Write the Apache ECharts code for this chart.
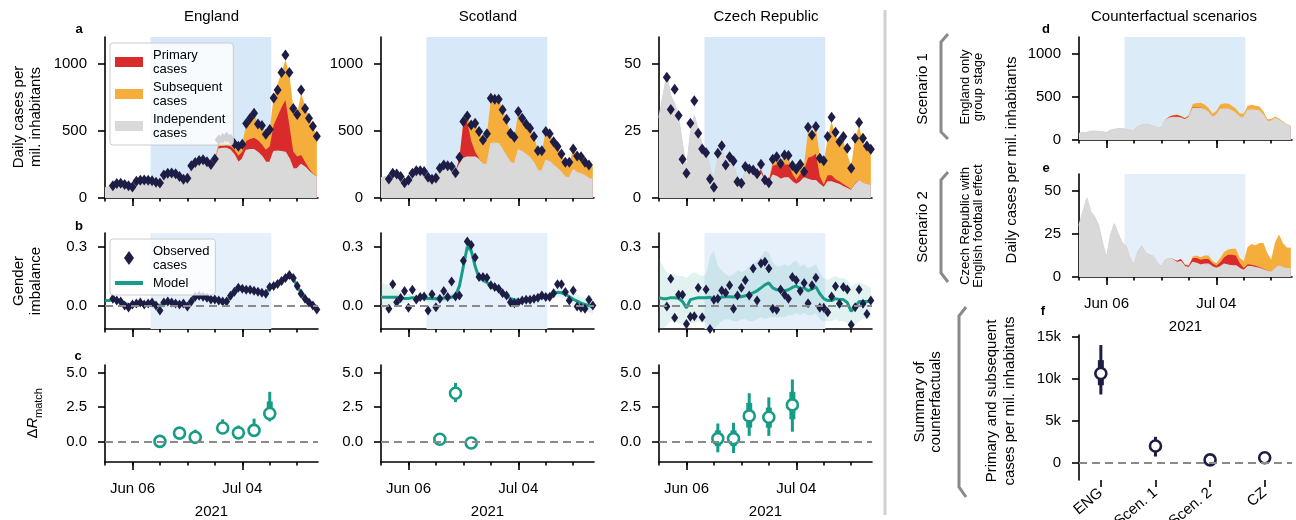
<!DOCTYPE html>
<html>
<head>
<meta charset="utf-8">
<script src="https://cdn.jsdelivr.net/npm/echarts@6/dist/echarts.min.js"></script>
<style>
  html, body { margin: 0; padding: 0; background: #fff; }
  #chart { width: 1296px; height: 520px; }
</style>
</head>
<body>
<div id="chart"></div>
<script>
// days relative to 6 June 2021 (day 0), from 30 May (-7) to 23 July (47)
const days = [-7, -6, -5, -4, -3, -2, -1, 0,
  1, 2, 3, 4, 5, 6, 7, 8, 9, 10, 11, 12, 13, 14,
  15, 16, 17, 18, 19, 20, 21, 22, 23, 24, 25, 26, 27, 28,
  29, 30, 31, 32, 33, 34, 35, 36, 37, 38, 39, 40, 41, 42,
  43, 44, 45, 46, 47];

const weekTicks = [-7, 0, 7, 14, 21, 28, 35, 42];
const monthTicks = [0, 28];
const monthLabels = ['Jun 06', 'Jul 04'];

// ---- daily cases per million (England)
const engObs = [null, null, 92, 108, 110, 100, 92, 82,
  125, 132, 134, 132, 128, 118, 112,
  172, 185, 186, 180, 160, 140, 148,
  240, 265, 280, 285, 270, 250, 290,
  435, 445, 455, 440, 405, 385, 400,
  555, 595, 632, 552, 540, 475, 510,
  745, 805, 935, 1065, 935, 668, 622,
  805, 668, 595, 535, 460];
const engIndep = [75, 85, 90, 100, 105, 100, 95, 85,
  115, 125, 130, 130, 125, 115, 110,
  160, 175, 180, 175, 160, 145, 150,
  230, 255, 265, 265, 255, 235, 265,
  365, 370, 370, 355, 320, 265, 290,
  355, 360, 360, 340, 310, 265, 265,
  345, 350, 345, 340, 290, 215, 220,
  250, 230, 200, 175, 155];
const engPrim = [0, 0, 0, 0, 0, 0, 0, 0,
  0, 0, 0, 0, 0, 0, 0,
  0, 0, 0, 0, 0, 0, 0,
  5, 10, 12, 12, 10, 10, 15,
  20, 20, 25, 30, 40, 50, 55,
  70, 80, 90, 90, 90, 95, 120,
  200, 260, 330, 390, 250, 130, 90,
  70, 40, 20, 10, 5];
const engSubs = [0, 0, 0, 0, 0, 0, 0, 0,
  0, 0, 0, 0, 0, 0, 0,
  0, 0, 0, 0, 0, 0, 0,
  0, 0, 2, 3, 3, 3, 5,
  45, 50, 55, 55, 50, 70, 55,
  130, 150, 180, 120, 140, 120, 125,
  210, 240, 260, 300, 380, 330, 320,
  460, 420, 390, 350, 300];

// ---- Scotland
const sctObs = [null, null, 142, 185, 178, 160, 114, 134,
  184, 204, 204, 197, 154, 139, 150,
  221, 246, 241, 234, 189, 304, 570,
  612, 545, 557, 495, 433, 478, 744,
  736, 736, 657, 587, 483, 453, 644,
  595, 552, 520, 458, 353, 353, 495,
  478, 420, 383, 328, 266, 266, 366,
  313, 308, 266, 246, null];
const sctIndep = [150, 160, 140, 180, 175, 155, 115, 130,
  180, 200, 200, 195, 155, 140, 150,
  215, 240, 235, 225, 190, 250, 295,
  305, 305, 305, 285, 250, 250, 405,
  410, 405, 360, 310, 265, 255, 360,
  345, 325, 300, 260, 205, 200, 280,
  270, 245, 220, 190, 155, 150, 210,
  190, 180, 165, 145, 140];
const sctPrim = [0, 0, 0, 0, 0, 0, 0, 0,
  0, 0, 0, 0, 0, 0, 0,
  0, 0, 0, 0, 5, 50, 270,
  260, 120, 40, 10, 3, 0, 0,
  0, 0, 0, 0, 0, 0, 0,
  0, 0, 0, 0, 0, 0, 0,
  0, 0, 0, 0, 0, 0, 0,
  0, 0, 0, 0, 0];
const sctSubs = [0, 0, 0, 0, 0, 0, 0, 0,
  0, 0, 0, 0, 0, 0, 0,
  0, 0, 0, 0, 0, 0, 5,
  40, 120, 210, 200, 185, 225, 335,
  325, 330, 295, 275, 220, 200, 280,
  250, 225, 220, 200, 150, 150, 215,
  210, 175, 165, 140, 110, 115, 155,
  125, 130, 100, 100, 95];

// ---- Czech Republic
const czeObs = [null, null, 45, 33, 40.5, 30.7, 14.4, 9.2,
  27.9, 36.2, 24.1, 18.3, 16.9, 7.1, 4,
  16.7, 19.5, 12.3, 15.4, 13.8, 6.1, 5.5,
  11.7, 10.8, 10.4, 9, 12.6, 6.7, 5.7,
  14.4, 15.4, 12.9, 16, 15.8, 12.1, 10.7,
  12.6, 9.8, 26.4, 23.5, 26.6, 14.8, 13.9,
  22.9, 30.1, 24.5, 21, 22.9, 18.5, 11.1,
  22.3, 28.1, 22.3, 19.4, 18.2];
const czeIndep = [30, 38, 46, 38, 35, 30, 20, 11,
  24, 31, 25, 20, 18, 11, 7,
  15, 18, 14, 13, 12, 8, 6,
  10, 11, 10, 8.5, 9, 6, 5.5,
  8.5, 8, 7, 7.5, 7.5, 6, 5,
  6, 7.5, 7, 6.5, 6.5, 5, 3.8,
  6, 6, 5.5, 5, 4.2, 3.5, 2.8,
  5, 6.5, 5.5, 5, 4.8];
const czePrim = [0, 0, 0, 0, 0, 0, 0, 0,
  0, 0, 0, 0, 0, 0, 0,
  0, 0, 0, 0, 0, 0, 0,
  0, 0, 0.5, 1, 1.5, 1, 1,
  3.5, 4.5, 5, 5, 5, 3, 1.8,
  3, 3, 8, 9, 10, 3, 1.2,
  2.5, 2.5, 1.5, 1.2, 1, 0.8, 0.5,
  0.5, 0.3, 0.2, 0.2, 0.2];
const czeSubs = [0, 0, 0, 0, 0, 0, 0, 0,
  0, 0, 0, 0, 0, 0, 0,
  0, 0, 0, 0, 0, 0, 0,
  0, 0, 0, 0, 0, 0.5, 0.5,
  2, 2, 2, 2.5, 2.5, 2, 2.5,
  3, 2, 10, 8, 10, 7.5, 8,
  14, 20, 16, 15, 16, 12, 8.5,
  17, 20, 15, 13, 13.5];

// ---- counterfactual scenarios (independent cases unchanged)
const scen1Prim = [0, 0, 0, 0, 0, 0, 0, 0,
  0, 0, 0, 0, 0, 0, 0,
  0, 0, 0, 0, 0, 0, 0,
  5, 15, 20, 25, 20, 15, 15,
  15, 10, 8, 5, 5, 5, 3,
  0, 0, 0, 0, 0, 0, 0,
  0, 0, 0, 0, 0, 0, 0,
  0, 0, 0, 0, 0];
const scen1Subs = [0, 0, 0, 0, 0, 0, 0, 0,
  0, 0, 0, 0, 0, 0, 0,
  0, 0, 0, 0, 0, 0, 0,
  0, 3, 5, 8, 8, 8, 10,
  40, 50, 55, 55, 50, 40, 45,
  60, 65, 65, 60, 55, 45, 45,
  55, 60, 55, 50, 45, 30, 25,
  25, 20, 15, 12, 10];
const scen2Prim = [0, 0, 0, 0, 0, 0, 0, 0,
  0, 0, 0, 0, 0, 0, 0,
  0, 0, 0, 0, 0, 0, 0,
  0, 0, 0.5, 1, 1.5, 1, 1,
  2.5, 3, 3, 3, 3, 2, 1.5,
  2.5, 4, 6, 6.5, 6, 3, 1.5,
  1.5, 1.2, 1, 0.8, 0.6, 0.5, 0.4,
  0.3, 0.3, 0.2, 0.2, 0.2];
const scen2Subs = [0, 0, 0, 0, 0, 0, 0, 0,
  0, 0, 0, 0, 0, 0, 0,
  0, 0, 0, 0, 0, 0, 0,
  0, 0, 0, 0, 0, 0.5, 0.5,
  1, 1.5, 1.5, 2, 2, 1.5, 1.5,
  2.5, 3, 3, 3.5, 4, 3, 4,
  10, 12, 12, 14, 15, 10, 7,
  15, 18, 14, 12, 12];

// ---- gender imbalance
const engGObs = [null, null, 0.035, 0.025, 0.02, 0.0, -0.01, 0.005,
  0.01, 0.015, 0.005, 0.01, 0.015, 0.0, -0.025,
  0.015, 0.02, 0.015, 0.01, 0.005, 0.01, -0.005,
  0.02, 0.045, 0.05, 0.045, 0.04, 0.03, 0.03,
  0.025, 0.02, 0.02, 0.05, 0.07, 0.09, 0.085,
  0.08, 0.08, 0.075, 0.07, 0.065, 0.06, 0.095,
  0.1, 0.11, 0.125, 0.14, 0.155, 0.14, 0.1,
  0.06, 0.035, 0.015, 0.0, -0.02];
const engGModel = [0.025, 0.025, 0.03, 0.025, 0.018, 0.01, 0.005, 0.005,
  0.008, 0.01, 0.01, 0.01, 0.01, 0.005, 0.0,
  0.01, 0.015, 0.015, 0.01, 0.008, 0.008, 0.005,
  0.02, 0.04, 0.045, 0.045, 0.04, 0.032, 0.03,
  0.025, 0.022, 0.025, 0.045, 0.07, 0.085, 0.085,
  0.08, 0.078, 0.074, 0.07, 0.065, 0.065, 0.09,
  0.1, 0.11, 0.125, 0.14, 0.15, 0.135, 0.1,
  0.065, 0.04, 0.018, 0.0, -0.015];
const sctGObs = [null, null, -0.017, 0.108, 0.017, 0.038, 0.074, -0.012,
  0.08, 0.031, 0.043, 0.046, -0.026, 0.057, -0.009,
  0.034, 0.074, 0.043, 0.123, 0.046, 0.051, 0.228,
  0.326, 0.309, 0.245, 0.146, 0.146, 0.142, 0.103,
  0.094, 0.086, 0.063, 0.051, 0.017, 0.012, 0.017,
  0.026, 0.029, 0.029, 0.034, 0.039, 0.051, 0.043,
  0.043, 0.063, 0.108, 0.108, 0.069, 0.026, 0.077,
  -0.005, -0.012, -0.017, 0.029, 0.0];
const sctGModel = [0.042, 0.042, 0.042, 0.042, 0.042, 0.04, 0.036, 0.036,
  0.04, 0.038, 0.038, 0.038, 0.036, 0.036, 0.034,
  0.034, 0.038, 0.038, 0.042, 0.05, 0.1, 0.2,
  0.3, 0.28, 0.2, 0.14, 0.13, 0.118, 0.102,
  0.09, 0.08, 0.065, 0.05, 0.035, 0.029, 0.025,
  0.025, 0.028, 0.03, 0.033, 0.037, 0.041, 0.045,
  0.052, 0.06, 0.067, 0.065, 0.057, 0.045, 0.032,
  0.022, 0.012, 0.005, 0.0, -0.008];
const sctGHi = [0.12, 0.11, 0.1, 0.09, 0.08, 0.07, 0.065, 0.06,
  0.06, 0.055, 0.055, 0.055, 0.055, 0.055, 0.05,
  0.05, 0.055, 0.055, 0.06, 0.07, 0.12, 0.22,
  0.32, 0.3, 0.22, 0.16, 0.145, 0.13, 0.115,
  0.1, 0.09, 0.075, 0.06, 0.045, 0.04, 0.035,
  0.035, 0.04, 0.04, 0.045, 0.05, 0.055, 0.06,
  0.07, 0.08, 0.09, 0.09, 0.085, 0.075, 0.065,
  0.055, 0.045, 0.04, 0.035, 0.03];
const sctGLo = [-0.02, -0.015, -0.01, 0.0, 0.005, 0.01, 0.01, 0.015,
  0.02, 0.02, 0.02, 0.02, 0.02, 0.02, 0.02,
  0.02, 0.02, 0.02, 0.025, 0.03, 0.08, 0.18,
  0.28, 0.26, 0.18, 0.125, 0.115, 0.105, 0.09,
  0.08, 0.07, 0.055, 0.04, 0.025, 0.018, 0.015,
  0.015, 0.018, 0.02, 0.022, 0.025, 0.028, 0.03,
  0.035, 0.04, 0.045, 0.04, 0.03, 0.015, 0.0,
  -0.01, -0.02, -0.03, -0.035, -0.045];
const czeGObs = [null, null, -0.005, 0.137, -0.063, 0.055, 0.055, -0.094,
  -0.057, -0.055, 0.091, -0.06, 0.081, -0.12, 0.029,
  0.034, 0.077, 0.065, 0.103, -0.017, 0.051, 0.091,
  0.129, 0.051, 0.189, 0.026, 0.214, 0.223, 0.189,
  -0.017, -0.022, 0.081, 0.055, 0.034, 0.146, 0.129,
  0.074, 0.115, 0.012, 0.103, 0.142, -0.012, -0.012,
  -0.034, 0.046, 0.098, 0.009, 0.094, 0.081, -0.098,
  -0.009, 0.081, 0.009, -0.043, 0.026];
const czeGModel = [0.04, 0.035, 0.035, 0.04, 0.04, 0.037, 0.02, -0.012,
  0.03, 0.035, 0.04, 0.04, 0.04, 0.042, 0.03,
  0.035, 0.043, 0.045, 0.045, 0.043, 0.043, 0.045,
  0.05, 0.055, 0.065, 0.075, 0.09, 0.105, 0.115,
  0.09, 0.08, 0.078, 0.075, 0.08, 0.092, 0.1,
  0.085, 0.09, 0.075, 0.085, 0.095, 0.06, 0.035,
  0.025, 0.025, 0.035, 0.03, 0.03, 0.015, -0.03,
  -0.005, 0.02, 0.02, 0.02, 0.02];
const czeGHi = [0.24, 0.2, 0.17, 0.16, 0.16, 0.15, 0.15, 0.14,
  0.16, 0.17, 0.16, 0.15, 0.16, 0.25, 0.28,
  0.2, 0.18, 0.16, 0.15, 0.16, 0.18, 0.17,
  0.18, 0.2, 0.21, 0.23, 0.25, 0.28, 0.27,
  0.22, 0.2, 0.2, 0.21, 0.2, 0.22, 0.23,
  0.2, 0.21, 0.19, 0.2, 0.21, 0.17, 0.14,
  0.13, 0.14, 0.15, 0.14, 0.14, 0.13, 0.1,
  0.11, 0.12, 0.11, 0.1, 0.09];
const czeGLo = [-0.12, -0.12, -0.1, -0.08, -0.08, -0.09, -0.1, -0.12,
  -0.09, -0.09, -0.08, -0.08, -0.09, -0.12, -0.12,
  -0.1, -0.08, -0.07, -0.07, -0.08, -0.08, -0.07,
  -0.07, -0.08, -0.08, -0.07, -0.06, -0.07, -0.06,
  -0.06, -0.06, -0.06, -0.06, -0.05, -0.05, -0.04,
  -0.05, -0.04, -0.05, -0.05, -0.04, -0.07, -0.08,
  -0.08, -0.08, -0.07, -0.08, -0.08, -0.09, -0.12,
  -0.1, -0.08, -0.07, -0.07, -0.06];

// ---- delta R per match day
const engMatch = [7, 12, 16, 23, 27, 31, 35];
const engR = [0.0, 0.6, 0.3, 0.97, 0.62, 0.8, 2.02];
const engRLo95 = [-0.15, 0.35, -0.2, 0.55, 0.2, 0.35, 1.45];
const engRHi95 = [0.15, 0.85, 0.85, 1.6, 1.15, 1.65, 3.6];
const engRLo68 = [-0.08, 0.45, 0.05, 0.75, 0.4, 0.55, 1.7];
const engRHi68 = [0.08, 0.75, 0.55, 1.25, 0.85, 1.15, 2.9];

const sctMatch = [8, 12, 16];
const sctR = [0.15, 3.5, -0.12];
const sctRLo95 = [-0.1, 2.85, -0.35];
const sctRHi95 = [0.4, 4.25, 0.12];
const sctRLo68 = [0.0, 3.1, -0.25];
const sctRHi68 = [0.3, 3.95, 0.0];

const czeMatch = [8, 12, 16, 21, 27];
const czeR = [0.2, 0.2, 1.85, 1.75, 2.65];
const czeRLo95 = [-0.8, -0.85, 0.4, 0.4, 0.7];
const czeRHi95 = [1.3, 1.35, 3.5, 3.2, 4.5];
const czeRLo68 = [-0.35, -0.35, 1.0, 1.0, 1.6];
const czeRHi68 = [0.8, 0.8, 2.8, 2.45, 3.6];

// ---- summary of counterfactuals
const fCats = ['ENG', 'Scen. 1', 'Scen. 2', 'CZ'];
const fMean = [10600, 1950, 300, 550];
const fLo95 = [8100, 700, 100, 350];
const fHi95 = [14000, 3050, 500, 750];
const fLo68 = [9200, 1300, 200, 450];
const fHi68 = [12200, 2600, 400, 650];

// ---------------------------------------------------------------
const FONT = '"Liberation Sans", Arial, sans-serif';
const TEAL = '#179c87';
const NAVY = '#1d1d45';
const RED = '#d92b2b';
const ORANGE = '#f5ad3b';
const GREY = '#d9d9d9';
const BAND = 'rgba(70,175,165,0.16)';
const DASH = '#8a8a8a';
const X_MIN = -7, X_MAX = 47.3;

const grids = [], xAxes = [], yAxes = [], series = [];
const lab = { color: '#000', fontSize: 15, fontFamily: FONT };
const axLine = { color: '#000', width: 1.6 };

const pairs = arr => days.map((d, i) => [d, arr[i]]);

function timeGrid(left, top, width, height, y, showDates) {
  const gi = grids.length;
  grids.push({ left, top, width, height, outerBoundsMode: 'none', containLabel: false });
  const xi = xAxes.length;
  xAxes.push({
    type: 'value', gridIndex: gi, min: X_MIN, max: X_MAX, position: 'bottom',
    axisLine: { show: true, onZero: false, lineStyle: axLine },
    axisTick: { show: true, customValues: weekTicks, length: 3.5, lineStyle: axLine },
    axisLabel: { show: false }, splitLine: { show: false }
  });
  xAxes.push({
    type: 'value', gridIndex: gi, min: X_MIN, max: X_MAX, position: 'bottom',
    axisLine: { show: false, onZero: false },
    axisTick: { show: true, customValues: monthTicks, length: 8, lineStyle: axLine },
    axisLabel: {
      show: showDates, customValues: monthTicks, margin: 19,
      formatter: v => monthLabels[monthTicks.indexOf(v)], ...lab
    },
    name: showDates ? '2021' : '', nameLocation: 'middle', nameGap: 42, nameTextStyle: lab,
    splitLine: { show: false }
  });
  const yi = yAxes.length;
  yAxes.push({
    type: 'value', gridIndex: gi, min: y.min, max: y.max,
    axisLine: { show: true, onZero: false, lineStyle: axLine },
    axisTick: { show: true, customValues: y.ticks, length: 7, lineStyle: axLine },
    axisLabel: { customValues: y.ticks, formatter: y.fmt, margin: 18, ...lab },
    splitLine: { show: false }
  });
  return { xi, yi };
}

function bgSeries(ax, shade, zero) {
  const s = { type: 'line', xAxisIndex: ax.xi, yAxisIndex: ax.yi, data: [], silent: true, z: 1, symbol: 'none' };
  if (shade) s.markArea = { silent: true, itemStyle: { color: shade }, data: [[{ xAxis: 4.6 }, { xAxis: 35.4 }]] };
  if (zero) s.markLine = {
    silent: true, symbol: 'none', label: { show: false },
    lineStyle: { color: DASH, width: 2, type: [8, 5] }, data: [{ yAxis: 0 }]
  };
  series.push(s);
}

// layered areas: total (orange) behind, then independent + primary (red), then independent (grey)
function casesSeries(ax, indep, prim, subs, obs, shade) {
  bgSeries(ax, shade, false);
  const base = { type: 'line', xAxisIndex: ax.xi, yAxisIndex: ax.yi,
    symbol: 'none', showSymbol: false, lineStyle: { width: 0 }, silent: true, z: 2 };
  const withPrim = indep.map((v, i) => v + prim[i]);
  const total = withPrim.map((v, i) => v + subs[i]);
  series.push({ ...base, name: 'Subsequent\ncases', data: pairs(total), color: ORANGE, areaStyle: { color: ORANGE, opacity: 1 } });
  series.push({ ...base, name: 'Primary\ncases', data: pairs(withPrim), color: RED, areaStyle: { color: RED, opacity: 1 } });
  series.push({ ...base, name: 'Independent\ncases', data: pairs(indep), color: GREY,
    lineStyle: { width: 1.2, color: GREY }, areaStyle: { color: GREY, opacity: 1 } });
  if (obs) series.push({
    type: 'scatter', name: 'Observed\ncases', xAxisIndex: ax.xi, yAxisIndex: ax.yi,
    data: pairs(obs).filter(p => p[1] !== null), symbol: 'diamond', symbolSize: [8, 11],
    itemStyle: { color: NAVY, opacity: 1 }, silent: true, z: 3
  });
}

function bandSeries(ax, lo, hi) {
  series.push({
    type: 'custom', xAxisIndex: ax.xi, yAxisIndex: ax.yi, silent: true, z: 2,
    data: days.map((d, i) => [d, lo[i], hi[i]]),
    encode: { x: 0, y: [1, 2] },
    renderItem: (params, api) => {
      if (params.dataIndex !== 0) return null;
      const upper = days.map((d, i) => api.coord([d, hi[i]]));
      const lower = days.map((d, i) => api.coord([d, lo[i]])).reverse();
      return { type: 'polygon', shape: { points: upper.concat(lower) }, style: { fill: BAND } };
    }
  });
}

function genderSeries(ax, obs, model, lo, hi) {
  bgSeries(ax, '#e6f0fa', true);
  if (lo) bandSeries(ax, lo, hi);
  series.push({
    type: 'line', name: 'Model', xAxisIndex: ax.xi, yAxisIndex: ax.yi, data: pairs(model),
    symbol: 'none', color: TEAL, lineStyle: { color: TEAL, width: 3 }, silent: true, z: 2
  });
  series.push({
    type: 'scatter', name: 'Observed\ncases', xAxisIndex: ax.xi, yAxisIndex: ax.yi,
    data: pairs(obs).filter(p => p[1] !== null), symbol: 'diamond', symbolSize: [7, 10],
    itemStyle: { color: NAVY, opacity: 1 }, silent: true, z: 3
  });
}

function errSeries(ax, xs, mean, lo95, hi95, lo68, hi68, color, size) {
  series.push({
    type: 'custom', xAxisIndex: ax.xi, yAxisIndex: ax.yi, silent: true, z: 3,
    data: xs.map((x, i) => [x, lo95[i], hi95[i], lo68[i], hi68[i]]),
    encode: { x: 0, y: [1, 2] },
    renderItem: (params, api) => {
      const x = api.value(0);
      const a1 = api.coord([x, api.value(1)]), a2 = api.coord([x, api.value(2)]);
      const b1 = api.coord([x, api.value(3)]), b2 = api.coord([x, api.value(4)]);
      return {
        type: 'group', children: [
          { type: 'line', shape: { x1: a1[0], y1: a1[1], x2: a2[0], y2: a2[1] }, style: { stroke: color, lineWidth: 3 } },
          { type: 'line', shape: { x1: b1[0], y1: b1[1], x2: b2[0], y2: b2[1] }, style: { stroke: color, lineWidth: 6 } }
        ]
      };
    }
  });
  series.push({
    type: 'scatter', xAxisIndex: ax.xi, yAxisIndex: ax.yi, silent: true, z: 3,
    data: xs.map((x, i) => [x, mean[i]]), symbol: 'circle', symbolSize: size,
    itemStyle: { color: '#fff', borderColor: color, borderWidth: 2.6, opacity: 1 }
  });
}

const yCases = { min: 0, max: 1200, ticks: [0, 500, 1000], fmt: v => String(v) };
const yCasesCz = { min: 0, max: 60, ticks: [0, 25, 50], fmt: v => String(v) };
const yGender = { min: -0.12, max: 0.37, ticks: [0, 0.3], fmt: v => v.toFixed(1) };
const yR = { min: -1.5, max: 5.55, ticks: [0, 2.5, 5], fmt: v => v.toFixed(1) };

const cols = [105, 381, 659];
const W = 213;

// row a
casesSeries(timeGrid(cols[0], 37, W, 161, yCases, false), engIndep, engPrim, engSubs, engObs, '#d7e9f8');
casesSeries(timeGrid(cols[1], 37, W, 161, yCases, false), sctIndep, sctPrim, sctSubs, sctObs, '#d7e9f8');
casesSeries(timeGrid(cols[2], 37, W, 161, yCasesCz, false), czeIndep, czePrim, czeSubs, czeObs, '#d7e9f8');
// row b
genderSeries(timeGrid(cols[0], 233, W, 96, yGender, false), engGObs, engGModel, null, null);
genderSeries(timeGrid(cols[1], 233, W, 96, yGender, false), sctGObs, sctGModel, sctGLo, sctGHi);
genderSeries(timeGrid(cols[2], 233, W, 96, yGender, false), czeGObs, czeGModel, czeGLo, czeGHi);
// row c
const axC = cols.map(l => timeGrid(l, 365, W, 97, yR, true));
axC.forEach(ax => bgSeries(ax, null, true));
errSeries(axC[0], engMatch, engR, engRLo95, engRHi95, engRLo68, engRHi68, TEAL, 11);
errSeries(axC[1], sctMatch, sctR, sctRLo95, sctRHi95, sctRLo68, sctRHi68, TEAL, 11);
errSeries(axC[2], czeMatch, czeR, czeRLo95, czeRHi95, czeRLo68, czeRHi68, TEAL, 11);
// d, e
casesSeries(timeGrid(1079, 37, W, 103, yCases, false), engIndep, scen1Prim, scen1Subs, null, '#dcebf8');
casesSeries(timeGrid(1079, 174, W, 103, yCasesCz, true), czeIndep, scen2Prim, scen2Subs, null, '#e4effa');

// f
(function () {
  const gi = grids.length;
  grids.push({ left: 1079, top: 335, width: W, height: 145, outerBoundsMode: 'none', containLabel: false });
  const xi = xAxes.length;
  xAxes.push({
    type: 'value', gridIndex: gi, min: -0.4, max: 3.5, position: 'bottom',
    axisLine: { show: false, onZero: false },
    axisTick: { show: true, customValues: [0, 1, 2, 3], length: 7, lineStyle: axLine },
    axisLabel: { customValues: [0, 1, 2, 3], formatter: v => fCats[v], rotate: 40, margin: 11, ...lab },
    splitLine: { show: false }
  });
  const yi = yAxes.length;
  yAxes.push({
    type: 'value', gridIndex: gi, min: -2100, max: 15200,
    axisLine: { show: true, onZero: false, lineStyle: axLine },
    axisTick: { show: true, customValues: [0, 5000, 10000, 15000], length: 7, lineStyle: axLine },
    axisLabel: { customValues: [0, 5000, 10000, 15000], formatter: v => v === 0 ? '0' : (v / 1000) + 'k', margin: 18, ...lab },
    splitLine: { show: false }
  });
  const ax = { xi, yi };
  bgSeries(ax, null, true);
  errSeries(ax, [0, 1, 2, 3], fMean, fLo95, fHi95, fLo68, fHi68, NAVY, 11);
})();

// ---- annotations
function T(x, y, text, size, extra) {
  return {
    type: 'text', x, y, silent: true,
    style: Object.assign({
      text, fontSize: size, fontFamily: FONT, fill: '#000',
      align: 'center', verticalAlign: 'middle', textAlign: 'center', textVerticalAlign: 'middle'
    }, extra || {})
  };
}
function R(x, y, text, size, lh) {
  const t = T(x, y, text, size, { lineHeight: lh || size + 2 });
  t.rotation = Math.PI / 2;
  return t;
}
function L(x, y, text) {
  return T(x, y, text, 13, { fontWeight: 'bold' });
}
function bracket(pts) {
  return { type: 'polyline', silent: true, shape: { points: pts }, style: { stroke: '#8a8a8a', lineWidth: 3, fill: null } };
}

const graphics = [
  T(211.5, 17, 'England', 15), T(488, 17, 'Scotland', 15), T(766, 17, 'Czech Republic', 15),
  T(1174, 17, 'Counterfactual scenarios', 15),
  L(79, 29, 'a'), L(79, 226, 'b'), L(78, 356, 'c'), L(1046, 29, 'd'), L(1046, 168, 'e'), L(1043, 311, 'f'),
  R(27, 117, 'Daily cases per\nmil. inhabitants', 15, 17),
  R(27, 281, 'Gender\nimbalance', 15, 17),
  {
    type: 'text', x: 33, y: 428, rotation: Math.PI / 2, silent: true,
    style: {
      text: '{n|Δ}{i|R}', align: 'center', verticalAlign: 'middle', textAlign: 'center', textVerticalAlign: 'middle',
      rich: { n: { fontSize: 15, fontFamily: FONT, fill: '#000', color: '#000' }, i: { fontSize: 15, fontFamily: FONT, fontStyle: 'italic', fill: '#000', color: '#000' } }
    }
  },
  R(39, 403, 'match', 11),
  R(1012, 160, 'Daily cases per mil. inhabitants', 15),
  R(1001, 401, 'Primary and subsequent\ncases per mil. inhabitants', 15, 18),
  R(923, 89, 'Scenario 1', 15),
  R(972, 87, 'England only\ngroup stage', 13, 13),
  R(923, 227, 'Scenario 2', 15),
  R(972, 226, 'Czech Republic with\nEnglish football effect', 13, 13),
  R(928, 402, 'Summary of\ncounterfactuals', 15, 16),
  bracket([[948, 34], [941, 42], [941, 132], [948, 139]]),
  bracket([[948, 172], [941, 180], [941, 273], [948, 282]]),
  bracket([[966, 307], [959, 316], [959, 487], [966, 497]]),
  { type: 'line', silent: true, shape: { x1: 885, y1: 10, x2: 885, y2: 515 }, style: { stroke: '#d0d0d0', lineWidth: 3 } }
];

const legendBase = {
  orient: 'vertical', selectedMode: false, itemWidth: 28, itemGap: 4,
  backgroundColor: 'rgba(255,255,255,0.8)', borderColor: '#cccccc', borderWidth: 1, borderRadius: 3,
  textStyle: { fontSize: 13, lineHeight: 14, fontFamily: FONT, color: '#000', padding: [0, 0, 0, 5] },
  z: 5
};

const option = {
  animation: false,
  textStyle: { fontFamily: FONT },
  grid: grids,
  xAxis: xAxes,
  yAxis: yAxes,
  series,
  legend: [
    Object.assign({}, legendBase, {
      left: 110, top: 43, itemHeight: 10, padding: [5, 8, 5, 5],
      data: [
        { name: 'Primary\ncases', icon: 'rect', itemStyle: { color: RED, borderWidth: 0 } },
        { name: 'Subsequent\ncases', icon: 'rect', itemStyle: { color: ORANGE, borderWidth: 0 } },
        { name: 'Independent\ncases', icon: 'rect', itemStyle: { color: GREY, borderWidth: 0 } }
      ]
    }),
    Object.assign({}, legendBase, {
      left: 110, top: 239, itemHeight: 14, padding: [5, 6, 5, 5],
      data: [
        { name: 'Observed\ncases', icon: 'path://M5,0L10,7L5,14L0,7Z', itemStyle: { color: NAVY, borderWidth: 0 } },
        { name: 'Model', icon: 'path://M0,0L28,0L28,4L0,4Z', itemStyle: { color: TEAL, borderWidth: 0 } }
      ]
    })
  ],
  graphic: { elements: graphics }
};

const chart = echarts.init(document.getElementById('chart'));
chart.setOption(option);
</script>
</body>
</html>
